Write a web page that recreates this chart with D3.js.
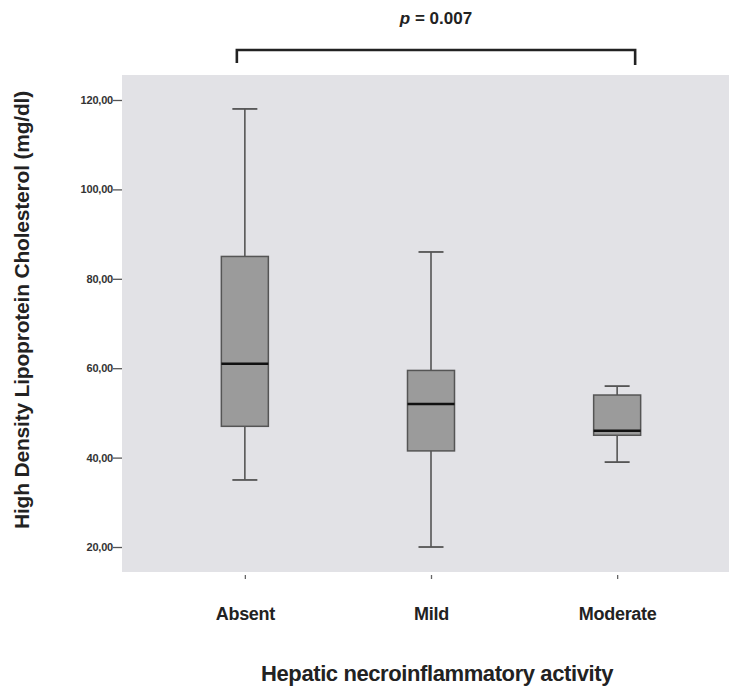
<!DOCTYPE html>
<html>
<head>
<meta charset="utf-8">
<script src="https://cdn.jsdelivr.net/npm/d3@7.9.0/dist/d3.min.js"></script>
<style>
  body { margin: 0; background: #fff; }
  svg { display: block; font-family: "Liberation Sans", Arial, sans-serif; }
</style>
</head>
<body>
<svg id="chart" width="729" height="689"></svg>
<script>
const categories = ["Absent", "Mild", "Moderate"];
const whiskerLow = [35, 20, 39];
const q1 = [47, 41.5, 45];
const medians = [61, 52, 46];
const q3 = [85, 59.5, 54];
const whiskerHigh = [118, 86, 56];
const yTicks = [20, 40, 60, 80, 100, 120];
const pLabel = "0.007";

const svg = d3.select("#chart");
const plot = { left: 122, right: 740, top: 75, bottom: 572 };

const x = d3.scalePoint()
  .domain(categories)
  .range([plot.left, plot.right])
  .padding(0.66);

const y = d3.scaleLinear()
  .domain([14.41, 125.59])
  .range([plot.bottom, plot.top]);

// plot background
svg.append("rect")
  .attr("x", plot.left)
  .attr("y", plot.top)
  .attr("width", plot.right - plot.left)
  .attr("height", plot.bottom - plot.top)
  .attr("fill", "#e2e2e6");

// y axis
const yAxis = svg.append("g")
  .attr("transform", `translate(${plot.left},0)`)
  .call(d3.axisLeft(y).tickValues(yTicks).tickSize(9).tickPadding(0)
    .tickFormat((d) => d3.format(".2f")(d).replace(".", ",")));
yAxis.select(".domain").remove();
yAxis.selectAll("line").attr("stroke", "#555").attr("stroke-width", 1.3);
yAxis.selectAll("text")
  .attr("fill", "#333")
  .style("font-size", "11px")
  .style("font-weight", "bold")
  .style("letter-spacing", "-0.2px");

// x axis
const xAxis = svg.append("g")
  .attr("transform", `translate(0,${plot.bottom})`)
  .call(d3.axisBottom(x).tickSize(7).tickPadding(28));
xAxis.select(".domain").remove();
xAxis.selectAll("line").attr("stroke", "#666").attr("stroke-width", 1.3)
  .attr("y1", 3);
xAxis.selectAll("text")
  .attr("fill", "#222")
  .style("font-size", "18px")
  .style("font-weight", "bold")
  .style("letter-spacing", "-0.3px");

// boxes
const boxWidth = 47;
const capWidth = 25;
const stats = categories.map((c, i) => ({
  c, lo: whiskerLow[i], q1: q1[i], med: medians[i], q3: q3[i], hi: whiskerHigh[i]
}));

const g = svg.append("g").selectAll("g").data(stats).join("g");

g.append("line")
  .attr("x1", (d) => x(d.c)).attr("x2", (d) => x(d.c))
  .attr("y1", (d) => y(d.hi)).attr("y2", (d) => y(d.q3))
  .attr("stroke", "#555").attr("stroke-width", 1.6);
g.append("line")
  .attr("x1", (d) => x(d.c)).attr("x2", (d) => x(d.c))
  .attr("y1", (d) => y(d.q1)).attr("y2", (d) => y(d.lo))
  .attr("stroke", "#555").attr("stroke-width", 1.6);
g.append("line")
  .attr("x1", (d) => x(d.c) - capWidth / 2).attr("x2", (d) => x(d.c) + capWidth / 2)
  .attr("y1", (d) => y(d.hi)).attr("y2", (d) => y(d.hi))
  .attr("stroke", "#555").attr("stroke-width", 1.8);
g.append("line")
  .attr("x1", (d) => x(d.c) - capWidth / 2).attr("x2", (d) => x(d.c) + capWidth / 2)
  .attr("y1", (d) => y(d.lo)).attr("y2", (d) => y(d.lo))
  .attr("stroke", "#555").attr("stroke-width", 1.8);
g.append("rect")
  .attr("x", (d) => x(d.c) - boxWidth / 2)
  .attr("y", (d) => y(d.q3))
  .attr("width", boxWidth)
  .attr("height", (d) => y(d.q1) - y(d.q3))
  .attr("fill", "#9b9b9b")
  .attr("stroke", "#555")
  .attr("stroke-width", 1.5);
g.append("line")
  .attr("x1", (d) => x(d.c) - boxWidth / 2).attr("x2", (d) => x(d.c) + boxWidth / 2)
  .attr("y1", (d) => y(d.med)).attr("y2", (d) => y(d.med))
  .attr("stroke", "#111").attr("stroke-width", 2.6);

// significance bracket
const bx1 = x(categories[0]) - 8;
const bx2 = x(categories[2]) + 18;
svg.append("path")
  .attr("d", `M${bx1},63 V50 H${bx2} V65`)
  .attr("fill", "none")
  .attr("stroke", "#222")
  .attr("stroke-width", 2.6);

const pText = svg.append("text")
  .attr("x", (bx1 + bx2) / 2)
  .attr("y", 24)
  .attr("text-anchor", "middle")
  .attr("fill", "#222")
  .style("font-size", "17px")
  .style("font-weight", "bold");
pText.append("tspan").style("font-style", "italic").text("p");
pText.append("tspan").text(` = ${pLabel}`);

// axis titles
svg.append("text")
  .attr("x", 437)
  .attr("y", 681)
  .attr("text-anchor", "middle")
  .attr("fill", "#222")
  .style("font-size", "22px")
  .style("font-weight", "bold")
  .style("letter-spacing", "-0.4px")
  .text("Hepatic necroinflammatory activity");

svg.append("text")
  .attr("transform", "translate(29,310) rotate(-90)")
  .attr("text-anchor", "middle")
  .attr("fill", "#222")
  .style("font-size", "21px")
  .style("font-weight", "bold")
  .style("letter-spacing", "-0.2px")
  .text("High Density Lipoprotein Cholesterol (mg/dl)");
</script>
</body>
</html>
